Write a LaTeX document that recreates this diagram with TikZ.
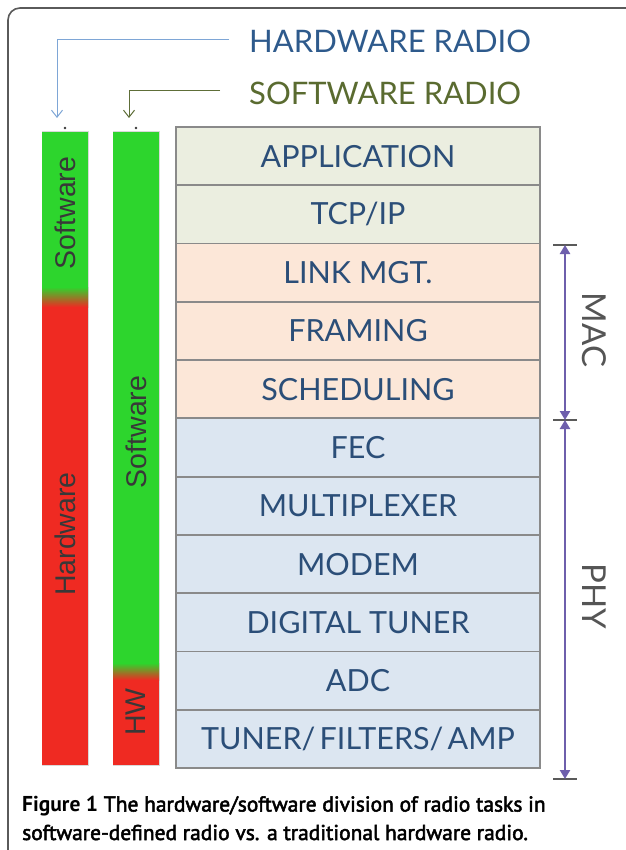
\documentclass[tikz,border=0pt]{standalone}
\usepackage{fontspec}
\setmainfont{Lato}
\newfontfamily\barfont{Liberation Sans}
\newfontfamily\capfont{PT Sans}[FakeBold=2.4]
\newfontfamily\capbold{PT Sans Bold}
\usetikzlibrary{arrows.meta}
\newcommand\narrowspaces{\spaceskip=0.14em\relax}

\definecolor{framegray}{HTML}{5A5A5A}
\definecolor{rowedge}{HTML}{8A8A8A}
\definecolor{appfill}{HTML}{EBEEE0}
\definecolor{macfill}{HTML}{FCE7D8}
\definecolor{phyfill}{HTML}{DCE6F1}
\definecolor{rowtext}{HTML}{2B4E78}
\definecolor{swgreen}{HTML}{2DD52D}
\definecolor{hwred}{HTML}{EF2A22}
\definecolor{bartext}{HTML}{383838}
\definecolor{hwblue}{HTML}{7EA6D6}
\definecolor{hwtitle}{HTML}{2E5A8C}
\definecolor{swolive}{HTML}{5E6E38}
\definecolor{swtitle}{HTML}{5A6B30}
\definecolor{bracket}{HTML}{6E5FAC}
\definecolor{sidetext}{HTML}{555555}

\tikzset{
  layer/.style={draw=rowedge, line width=1.8pt, minimum width=364pt,
    minimum height=58.3pt, inner sep=0pt, text=rowtext,
    font=\fontsize{30.5}{33}\selectfont},
  tightspace/.style={font={\fontsize{30.5}{33}\selectfont\narrowspaces}},
  barlabel/.style={rotate=90, text=bartext, inner sep=0pt,
    font=\barfont\fontsize{28.5}{30}\selectfont},
  radiotitle/.style={anchor=west, inner sep=0pt,
    font=\fontsize{31}{34}\selectfont},
  pointer/.style={line width=1pt, -{Straight Barb[length=7pt,width=11pt]}},
  span/.style={bracket, line width=2.6pt,
    {Triangle[length=9pt,width=10pt]}-{Triangle[length=9pt,width=10pt]}},
  tick/.style={draw=framegray, line width=1.2pt},
  sidelabel/.style={rotate=-90, text=sidetext, inner sep=0pt,
    font=\fontsize{33}{36}\selectfont}
}

\begin{document}
\begin{tikzpicture}[x=1pt, y=-1pt]
\useasboundingbox (0,0) rectangle (625,850);
\fill[white] (0,0) rectangle (625,850);

% page frame, open at the right and bottom
\draw[framegray, line width=1.6pt, rounded corners=12pt] (8,870) -- (8,8) -- (650,8);

% protocol stack
\node[layer, fill=appfill] (app)  at (358,156.1) {APPLICATION};
\node[layer, fill=appfill] (tcp)  at (358,214.4) {TCP/IP};
\node[layer, fill=macfill] (link) at (358,272.7) {LINK MGT.};
\node[layer, fill=macfill] (fram) at (358,331.0) {FRAMING};
\node[layer, fill=macfill] (sched) at (358,389.2) {SCHEDULING};
\node[layer, fill=phyfill] (fec)  at (358,447.5) {FEC};
\node[layer, fill=phyfill] (mux)  at (358,505.8) {MULTIPLEXER};
\node[layer, fill=phyfill] (modem) at (358,564.1) {MODEM};
\node[layer, fill=phyfill] (dtun) at (358,622.3) {DIGITAL TUNER};
\node[layer, fill=phyfill] (adc)  at (358,680.6) {ADC};
\node[layer, tightspace, fill=phyfill] (tun)  at (358,738.9) {TUNER/ FILTERS/ AMP};

% hardware radio bar
\draw[gray!30, line width=1pt] (42,132) rectangle (88,765);
\fill[swgreen] (42,132) rectangle (88,287);
\shade[top color=swgreen, bottom color=hwred] (42,287) rectangle (88,307);
\fill[hwred] (42,307) rectangle (88,765);
\coordinate (hwtop) at (65,132);
\fill[bartext] (65,128) circle (1.3pt);
\node[barlabel] (hwsoft) at (65,213) {Software};
\node[barlabel] (hwhard) at (65,534) {Hardware};

% software radio bar
\draw[gray!30, line width=1pt] (113,132) rectangle (159,765);
\fill[swgreen] (113,132) rectangle (159,663);
\shade[top color=swgreen, bottom color=hwred] (113,663) rectangle (159,680);
\fill[hwred] (113,680) rectangle (159,765);
\coordinate (swtop) at (136,132);
\fill[bartext] (136,128) circle (1.3pt);
\node[barlabel] (swsoft) at (136,432) {Software};
\node[barlabel] (swhard) at (136,712) {HW};

% radio titles and their pointers
\node[radiotitle, text=hwtitle] (hwradio) at (249,41) {HARDWARE RADIO};
\node[radiotitle, text=swtitle] (swradio) at (249,93) {SOFTWARE RADIO};
\coordinate (hwend) at (57,118);
\coordinate (swend) at (129,118);
\draw[pointer, hwblue] ([xshift=-20pt,yshift=1pt]hwradio.west) -| (hwend);
\draw[pointer, swolive] ([xshift=-29pt,yshift=2pt]swradio.west) -| (swend);

% MAC / PHY extents
\coordinate (mactop) at (565,245);
\coordinate (macbot) at (565,420);
\coordinate (phybot) at (565,779);
\draw[tick] (553,245) -- (577,245);
\draw[tick] (553,420) -- (577,420);
\draw[tick] (553,779) -- (577,779);
\draw[span] (mactop) -- (macbot);
\draw[span] (macbot) -- (phybot);
\node[sidelabel] (mac) at (594,330) {MAC};
\node[sidelabel] (phy) at (594,596) {PHY};

% caption
\node[anchor=base west, inner sep=0pt, align=left,
  font=\capfont\fontsize{21.5}{28.5}\selectfont] (caption) at (22,840)
  {{\capbold Figure 1} The hardware/software division of radio tasks in\\
   software-defined radio vs. a traditional hardware radio.};
\end{tikzpicture}
\end{document}
